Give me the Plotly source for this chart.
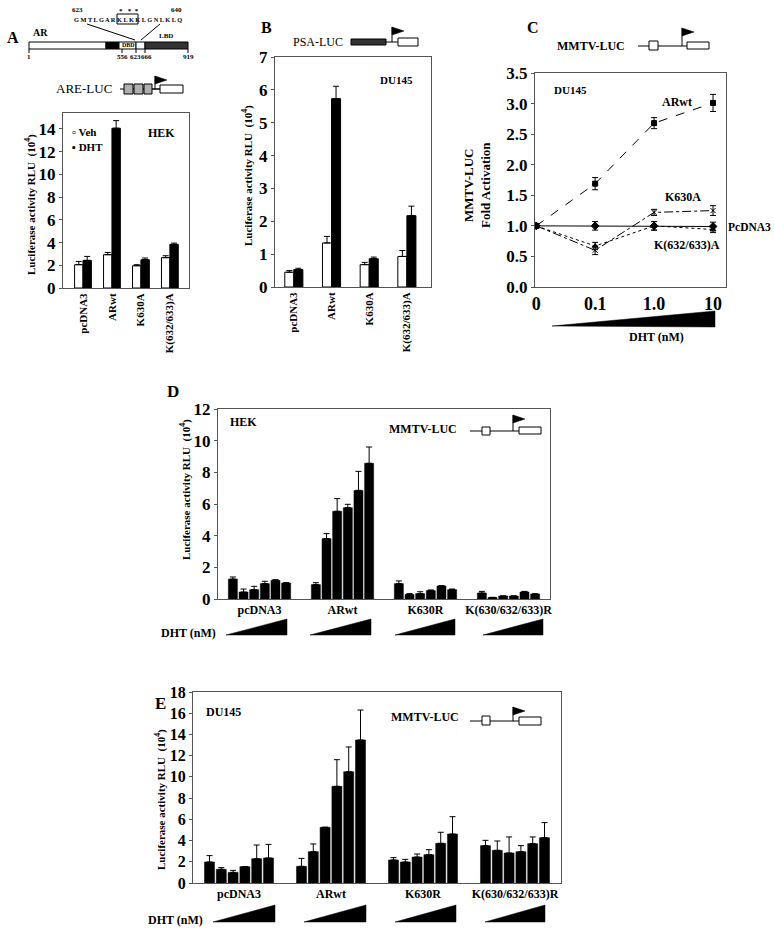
import plotly.graph_objects as go

W, H = 774, 933
SERIF = "Liberation Serif"

# ---------------- data ----------------
# Panel A (HEK, ARE-LUC)
a_cats = ["pcDNA3", "ARwt", "K630A", "K(632/633)A"]
a_veh = [2.05, 2.93, 1.96, 2.67]
a_veh_err = [0.29, 0.20, 0.09, 0.17]
a_dht = [2.43, 14.06, 2.49, 3.84]
a_dht_err = [0.35, 0.67, 0.15, 0.11]

# Panel B (DU145, PSA-LUC)
b_cats = ["pcDNA3", "ARwt", "K630A", "K(632/633)A"]
b_veh = [0.45, 1.34, 0.68, 0.93]
b_veh_err = [0.05, 0.20, 0.07, 0.18]
b_dht = [0.53, 5.73, 0.86, 2.17]
b_dht_err = [0.04, 0.38, 0.05, 0.29]

# Panel C (DU145, MMTV-LUC fold activation)
c_doses = ["0", "0.1", "1.0", "10"]
c_arwt = [1.00, 1.69, 2.68, 3.01]
c_arwt_err = [0.03, 0.10, 0.09, 0.14]
c_pcdna3 = [1.00, 1.00, 1.00, 0.99]
c_pcdna3_err = [0.03, 0.07, 0.07, 0.07]
c_k630a = [1.00, 0.60, 1.22, 1.25]
c_k630a_err = [0.03, 0.07, 0.05, 0.08]
c_k632 = [1.00, 0.67, 1.00, 0.94]
c_k632_err = [0.03, 0.06, 0.07, 0.05]

# Panel D (HEK, MMTV-LUC), 6 DHT doses per construct
d_groups = ["pcDNA3", "ARwt", "K630R", "K(630/632/633)R"]
d_vals = [
    [1.26, 0.44, 0.59, 0.97, 1.18, 1.01],
    [0.91, 3.81, 5.54, 5.77, 6.86, 8.57],
    [0.97, 0.29, 0.34, 0.53, 0.82, 0.59],
    [0.38, 0.10, 0.19, 0.19, 0.44, 0.32],
]
d_err = [
    [0.13, 0.19, 0.21, 0.15, 0.04, 0.02],
    [0.12, 0.32, 0.80, 0.21, 1.20, 1.03],
    [0.17, 0.05, 0.12, 0.04, 0.02, 0.04],
    [0.10, 0.00, 0.00, 0.00, 0.04, 0.00],
]

# Panel E (DU145, MMTV-LUC)
e_groups = ["pcDNA3", "ARwt", "K630R", "K(630/632/633)R"]
e_vals = [
    [1.98, 1.29, 1.00, 1.54, 2.29, 2.36],
    [1.57, 2.95, 5.25, 9.11, 10.49, 13.48],
    [2.17, 1.98, 2.45, 2.67, 3.74, 4.62],
    [3.52, 3.08, 2.83, 2.95, 3.71, 4.27],
]
e_err = [
    [0.60, 0.16, 0.19, 0.00, 1.29, 1.28],
    [0.75, 0.73, 0.00, 2.51, 2.33, 2.82],
    [0.22, 0.25, 0.28, 0.47, 1.04, 1.63],
    [0.50, 0.88, 1.51, 0.57, 0.63, 1.42],
]
dose_names = ["DHT dose 1", "DHT dose 2", "DHT dose 3", "DHT dose 4", "DHT dose 5", "DHT dose 6"]


# ---------------- helpers ----------------
def X(px):
    return px / W


def Y(py):
    return 1 - py / H


def F(size, bold=True):
    d = dict(family=SERIF, size=size, color="black")
    if bold:
        d["weight"] = "bold"
    return d


def up_err(vals):
    return dict(type="data", symmetric=False, array=vals, arrayminus=[0] * len(vals),
                color="black", thickness=1, width=3)


fig = go.Figure()

# ---- Panel A bars ----
aw = 0.29
fig.add_trace(go.Bar(x=a_cats, y=a_veh, name="Veh", width=aw, offset=-aw,
                     marker=dict(color="white", line=dict(color="black", width=1)),
                     error_y=up_err(a_veh_err), xaxis="x", yaxis="y", showlegend=False))
fig.add_trace(go.Bar(x=a_cats, y=a_dht, name="DHT", width=aw, offset=0,
                     marker=dict(color="black", line=dict(color="black", width=1)),
                     error_y=up_err(a_dht_err), xaxis="x", yaxis="y", showlegend=False))

# ---- Panel B bars ----
bw = 0.24
fig.add_trace(go.Bar(x=b_cats, y=b_veh, name="Veh", width=bw, offset=-bw,
                     marker=dict(color="white", line=dict(color="black", width=1)),
                     error_y=up_err(b_veh_err), xaxis="x2", yaxis="y2", showlegend=False))
fig.add_trace(go.Bar(x=b_cats, y=b_dht, name="DHT", width=bw, offset=0,
                     marker=dict(color="black", line=dict(color="black", width=1)),
                     error_y=up_err(b_dht_err), xaxis="x2", yaxis="y2", showlegend=False))

# ---- Panel C lines ----
c_series = [
    ("ARwt", c_arwt, c_arwt_err, "dash", "square", 5),
    ("PcDNA3", c_pcdna3, c_pcdna3_err, "solid", "diamond", 6),
    ("K630A", c_k630a, c_k630a_err, "dashdot", "x-thin-open", 5),
    ("K(632/633)A", c_k632, c_k632_err, "dot", "triangle-up", 5),
]
for name, vals, err, dash, sym, ms in c_series:
    fig.add_trace(go.Scatter(x=c_doses, y=vals, name=name, mode="lines+markers",
                             line=dict(color="black", width=1, dash=dash),
                             marker=dict(color="black", size=ms, symbol=sym,
                                         line=dict(color="black", width=1)),
                             error_y=dict(type="data", array=err, color="black",
                                          thickness=1, width=3),
                             xaxis="x3", yaxis="y3", showlegend=False))

# ---- Panels D and E grouped bars ----
for j, dn in enumerate(dose_names):
    fig.add_trace(go.Bar(x=d_groups, y=[g[j] for g in d_vals], name=dn,
                         marker=dict(color="black", line=dict(color="black", width=0.5)),
                         error_y=up_err([g[j] for g in d_err]),
                         xaxis="x4", yaxis="y4", showlegend=False))
for j, dn in enumerate(dose_names):
    fig.add_trace(go.Bar(x=e_groups, y=[g[j] for g in e_vals], name=dn,
                         marker=dict(color="black", line=dict(color="black", width=0.5)),
                         error_y=up_err([g[j] for g in e_err]),
                         xaxis="x5", yaxis="y5", showlegend=False))

# ---------------- axes ----------------
frame = dict(showline=True, mirror=True, linecolor="#555", linewidth=1,
             showgrid=False, zeroline=False, automargin=False)


def yax(domain_px, rng, dtick, size=17, fmt=None, anchor=None):
    d = dict(frame, domain=[Y(domain_px[1]), Y(domain_px[0])], range=rng, dtick=dtick,
             ticks="outside", ticklen=3, tickcolor="#555", tickfont=F(size))
    if fmt:
        d["tickformat"] = fmt
    if anchor:
        d["anchor"] = anchor
    return d


def xax(domain_px, rng, size=11, angle=0, anchor=None):
    d = dict(frame, domain=[X(domain_px[0]), X(domain_px[1])], type="category",
             range=rng, ticks="", tickfont=F(size), tickangle=angle)
    if anchor:
        d["anchor"] = anchor
    return d


layout_axes = dict(
    xaxis=xax((63, 189), [-0.69, 3.66], 11, -90, "y"),
    yaxis=yax((113, 288), [0, 15.4], 2, 17, anchor="x"),
    xaxis2=xax((275, 431), [-0.5, 3.64], 11, -90, "y2"),
    yaxis2=yax((57, 287), [0, 7], 1, 17, anchor="x2"),
    xaxis3=xax((535, 726), [-0.02, 3.22], 18, 0, "y3"),
    yaxis3=yax((73, 287), [0, 3.5], 0.5, 17, ".1f", anchor="x3"),
    xaxis4=xax((218, 550), [-0.5, 3.5], 12, 0, "y4"),
    yaxis4=yax((409, 599), [0, 12], 2, 17, anchor="x4"),
    xaxis5=xax((193, 561), [-0.5, 3.5], 12, 0, "y5"),
    yaxis5=yax((692, 883), [0, 18], 2, 16, anchor="x5"),
)

# ---------------- annotations ----------------
ann = []


def text(x, y, s, size, bold=True, angle=0, xanchor="center"):
    ann.append(dict(x=X(x), y=Y(y), xref="paper", yref="paper", text=s, showarrow=False,
                    font=F(size, bold), textangle=angle, xanchor=xanchor, yanchor="middle"))


ylab = "Luciferase activity RLU  (10<sup>4</sup>)"
# panel letters
text(13, 37, "A", 16)
text(266, 28, "B", 16)
text(533, 28, "C", 16)
text(173, 392, "D", 17)
text(160, 703, "E", 17)
# Panel A header
text(40, 33, "AR", 10)
text(77, 10, "623", 7)
text(176, 10, "640", 7)
text(128, 19.5, "G M T L G A R K L K K L G N L K L Q", 6.3)
text(129, 11, "*&nbsp;&nbsp;&nbsp;*&nbsp;&nbsp;*", 7)
text(128, 45.5, "DBD", 6)
text(166, 36, "LBD", 7)
for xp, lab in ((29, "1"), (122, "556"), (146, "666"), (188, "919")):
    text(xp, 57, lab, 7)
text(135, 57, "623", 7)
text(84, 88, "ARE-LUC", 13, bold=False)
# Panel A inside
text(70, 132, "▫ Veh", 11, xanchor="left")
text(70, 147, "▪ DHT", 11, xanchor="left")
text(161, 133, "HEK", 12)
text(30, 205, ylab, 11, angle=-90)
# Panel B
text(318, 42, "PSA-LUC", 12, bold=False)
text(397, 80, "DU145", 11)
text(248, 175, ylab, 11, angle=-90)
# Panel C
text(591, 46, "MMTV-LUC", 12)
text(570, 90, "DU145", 11)
text(477, 185, "MMTV-LUC<br>Fold Activation", 13, angle=-90)
text(677, 102, "ARwt", 12)
text(683, 197, "K630A", 12)
text(773, 227, "PcDNA3", 11.5, xanchor="right")
text(687, 245, "K(632/633)A", 12)
text(656, 337, "DHT (nM)", 12)
# Panel D
text(243, 422, "HEK", 12)
text(423, 429, "MMTV-LUC", 12)
text(185, 490, ylab, 11, angle=-90)
text(188, 633, "DHT (nM)", 12)
# Panel E
text(223, 712, "DU145", 12)
text(425, 717, "MMTV-LUC", 12)
text(160, 800, ylab, 11, angle=-90)
text(175, 920, "DHT (nM)", 12)

# ---------------- shapes (schematics & DHT wedges) ----------------
shp = []


def rect(x0, y0, x1, y1, fill="white", lw=1):
    shp.append(dict(type="rect", xref="paper", yref="paper", x0=X(x0), x1=X(x1),
                    y0=Y(y1), y1=Y(y0), fillcolor=fill, line=dict(color="black", width=lw)))


def line(x0, y0, x1, y1, lw=1):
    shp.append(dict(type="line", xref="paper", yref="paper", x0=X(x0), x1=X(x1),
                    y0=Y(y0), y1=Y(y1), line=dict(color="black", width=lw)))


def poly(pts):
    path = "M " + " L ".join(f"{X(px):.5f},{Y(py):.5f}" for px, py in pts) + " Z"
    shp.append(dict(type="path", xref="paper", yref="paper", path=path,
                    fillcolor="black", line=dict(color="black", width=0.5)))


def promoter(line_x0, line_x1, ly, sq, stem_x, stem_top, rx0, rx1, ry0, ry1):
    line(line_x0, ly, line_x1, ly)
    if sq:
        rect(*sq)
    line(stem_x, ly, stem_x, stem_top)
    poly([(stem_x, stem_top), (stem_x + 12, stem_top + 4), (stem_x, stem_top + 8)])
    rect(rx0, ry0, rx1, ry1)


# AR protein diagram
rect(29, 42, 106, 49)
rect(106, 42, 119, 49, fill="black")
rect(119, 42, 136, 49)
rect(136, 42, 145, 49)
rect(145, 42, 188, 49, fill="#333333")
for xp in (29, 122, 136, 145, 188):
    line(xp, 49, xp, 53)
rect(117, 14, 138, 24, fill="rgba(0,0,0,0)")
line(87, 24, 135, 40)
line(160, 24, 141, 40)

# ARE-LUC
line(120, 89, 160, 89)
for gx in ((124, 133), (134, 143), (144, 152)):
    rect(gx[0], 84, gx[1], 94, fill="#b0b0b0")
promoter(152, 160, 89, None, 155, 76, 160, 183, 85, 93)

# PSA-LUC
rect(351, 39, 386, 45, fill="#333333")
promoter(386, 398, 42, None, 392, 27, 398, 418, 38, 46)

# MMTV-LUC (C, D, E)
promoter(638, 709, 46, (649, 41, 658, 50), 682, 28, 687, 709, 42, 49)
promoter(470, 541, 431, (482, 427, 490, 435), 513, 415, 519, 541, 427, 434)
promoter(470, 541, 721, (482, 716, 490, 725), 513, 707, 519, 541, 717, 725)

# DHT wedges
poly([(552, 326), (715, 311), (715, 327)])
for x0, x1 in ((226, 287), (310, 371), (395, 455), (483, 543)):
    poly([(x0, 635), (x1, 619), (x1, 635)])
for x0, x1 in ((213, 275), (304, 366), (395, 456), (485, 545)):
    poly([(x0, 922), (x1, 905), (x1, 922)])

fig.update_layout(
    width=W, height=H,
    margin=dict(l=0, r=0, t=0, b=0, pad=0, autoexpand=False),
    paper_bgcolor="white", plot_bgcolor="white",
    barmode="group", bargap=0.23, bargroupgap=0.15,
    font=dict(family=SERIF, color="black"),
    annotations=ann, shapes=shp,
    **layout_axes,
)

fig.write_html("out.html",
               config={"displayModeBar": False},
               post_script="document.body.style.margin='0';document.body.style.overflow='hidden';")
